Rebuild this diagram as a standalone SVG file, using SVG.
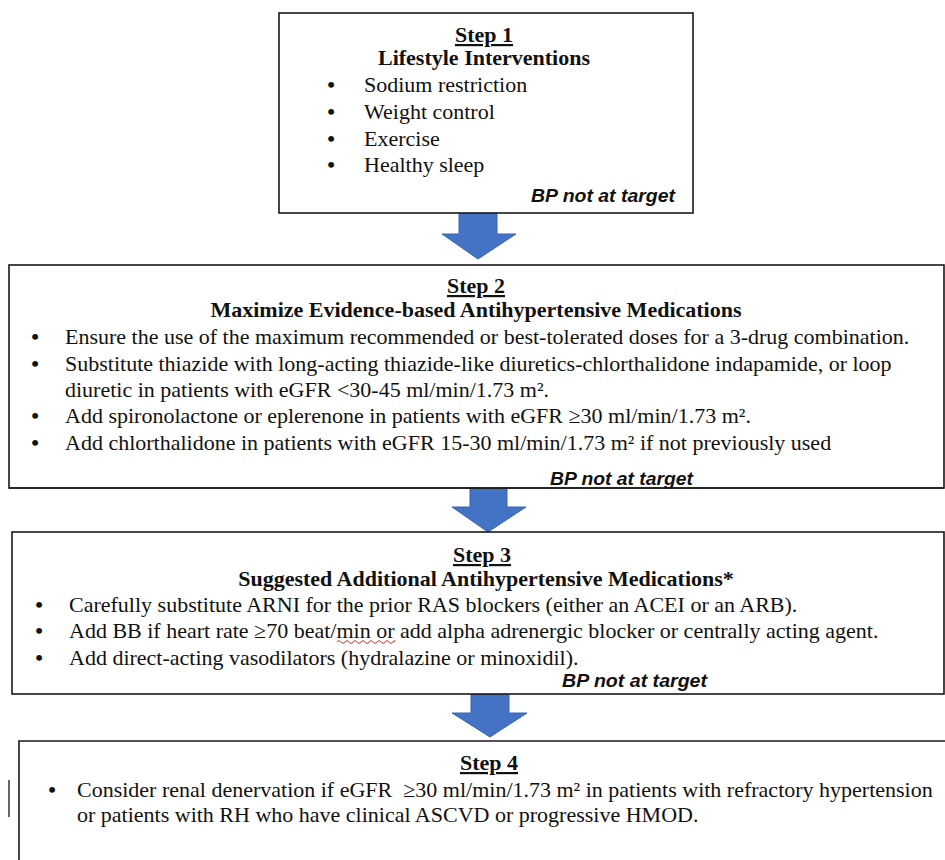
<svg xmlns="http://www.w3.org/2000/svg" width="945" height="860" viewBox="0 0 945 860">
<style>
.box{fill:#fff;stroke:#1a1a1a;stroke-width:1.6}
.hd{font-weight:bold;text-anchor:middle}
.u{text-decoration:underline}
.dot{font-weight:bold;text-anchor:middle}
.bp{font-family:'Liberation Sans',Arial,sans-serif;font-size:18px;font-weight:bold;font-style:italic}
.arrow{fill:#4472C4;stroke:#3a64b0;stroke-width:1}
</style>
<rect width="945" height="860" fill="#fff"/>
<g id="connectors">
<polygon class="arrow" points="459,213 497,213 497,234 516,234 478,259 442,234 459,234"/>
<polygon class="arrow" points="470,488 507,488 507,507 526,507 488,532 452,507 470,507"/>
<polygon class="arrow" points="471,694 509,694 509,713 527,713 490,737 452,713 471,713"/>
</g>
<g id="step1" style="font-family:'Liberation Serif','Times New Roman',serif;font-size:22px" fill="#111">
<rect class="box" x="279" y="13" width="414" height="200"/>
<text class="hd u" x="484" y="42">Step 1</text>
<text class="hd" x="484" y="65">Lifestyle Interventions</text>
<text class="dot" x="331" y="92">•</text><text x="364" y="92">Sodium restriction</text>
<text class="dot" x="331" y="119">•</text><text x="364" y="119">Weight control</text>
<text class="dot" x="331" y="146">•</text><text x="364" y="146">Exercise</text>
<text class="dot" x="331" y="172">•</text><text x="364" y="172">Healthy sleep</text>
<text class="bp" x="531" y="202" textLength="144" lengthAdjust="spacingAndGlyphs">BP not at target</text>
</g>
<g id="step2" style="font-family:'Liberation Serif','Times New Roman',serif;font-size:22px" fill="#111">
<rect class="box" x="9" y="265" width="935" height="223"/>
<text class="hd u" x="476" y="293">Step 2</text>
<text class="hd" x="476" y="317">Maximize Evidence-based Antihypertensive Medications</text>
<text class="dot" x="35" y="344">•</text><text x="65" y="344">Ensure the use of the maximum recommended or best-tolerated doses for a 3-drug combination.</text>
<text class="dot" x="35" y="371">•</text><text x="65" y="371">Substitute thiazide with long-acting thiazide-like diuretics-chlorthalidone indapamide, or loop</text>
<text x="65" y="397">diuretic in patients with eGFR &lt;30-45 ml/min/1.73 m².</text>
<text class="dot" x="35" y="423">•</text><text x="65" y="423">Add spironolactone or eplerenone in patients with eGFR ≥30 ml/min/1.73 m².</text>
<text class="dot" x="35" y="450">•</text><text x="65" y="450">Add chlorthalidone in patients with eGFR 15-30 ml/min/1.73 m² if not previously used</text>
<text class="bp" x="550" y="485" textLength="143" lengthAdjust="spacingAndGlyphs">BP not at target</text>
<line x1="9" y1="488" x2="944" y2="488" stroke="#1a1a1a" stroke-width="1.6"/>
</g>
<g id="step3" style="font-family:'Liberation Serif','Times New Roman',serif;font-size:22px" fill="#111">
<rect class="box" x="12" y="532" width="932" height="162"/>
<text class="hd u" x="482" y="562">Step 3</text>
<text class="hd" x="486" y="586">Suggested Additional Antihypertensive Medications*</text>
<text class="dot" x="39" y="612">•</text><text x="69" y="612">Carefully substitute ARNI for the prior RAS blockers (either an ACEI or an ARB).</text>
<text class="dot" x="39" y="638">•</text><text x="69" y="638">Add BB if heart rate ≥70 beat/min or add alpha adrenergic blocker or centrally acting agent.</text>
<path d="M337,642 q2,-3 4,0 t4,0 t4,0 t4,0 t4,0 t4,0 t4,0 t4,0 t4,0 t4,0 t4,0 t4,0 t4,0 t4,0 t2,0" fill="none" stroke="#e03030" stroke-width="1"/>
<text class="dot" x="39" y="665">•</text><text x="69" y="665">Add direct-acting vasodilators (hydralazine or minoxidil).</text>
<text class="bp" x="562" y="687" textLength="145" lengthAdjust="spacingAndGlyphs">BP not at target</text>
</g>
<g id="step4" style="font-family:'Liberation Serif','Times New Roman',serif;font-size:22px" fill="#111">
<path d="M19,860 V741 H945" fill="none" stroke="#1a1a1a" stroke-width="1.6"/>
<text class="hd u" x="489" y="770">Step 4</text>
<text class="dot" x="52" y="797">•</text><text x="77" y="797" xml:space="preserve">Consider renal denervation if eGFR  ≥30 ml/min/1.73 m² in patients with refractory hypertension</text>
<text x="77" y="822">or patients with RH who have clinical ASCVD or progressive HMOD.</text>
<line x1="9" y1="780" x2="9" y2="817" stroke="#333" stroke-width="1.5"/>
</g>
</svg>
